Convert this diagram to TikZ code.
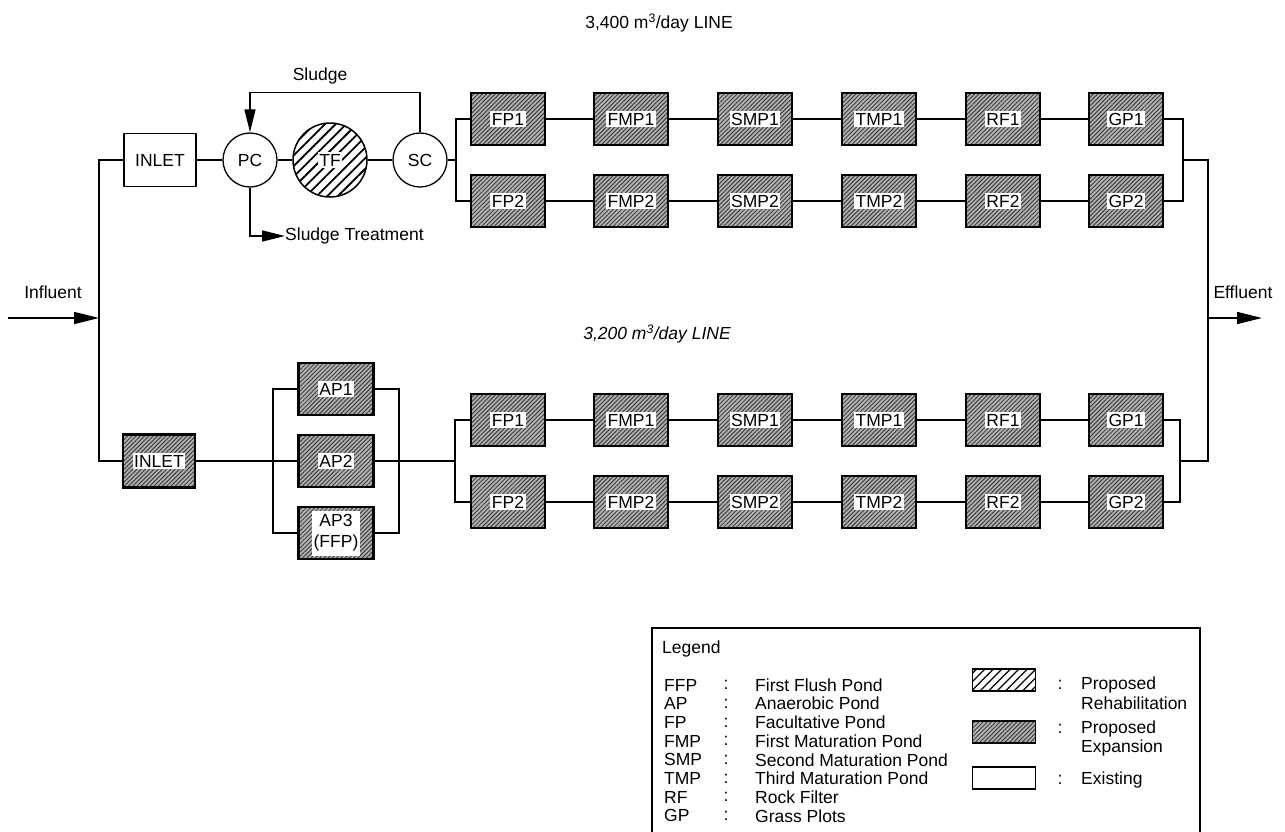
\documentclass[tikz,border=0pt]{standalone}
\usepackage{fontspec}
\setmainfont{Liberation Sans}
\usetikzlibrary{arrows.meta,patterns.meta}
\newcommand\fsz{\fontsize{17.5pt}{21pt}\selectfont}
\newcommand\wb[1]{{\setlength\fboxsep{1.5pt}\colorbox{white}{#1}}}
\begin{document}
\begin{tikzpicture}[x=1pt,y=-1pt,
  every node/.append style={font=\fsz},
  txt/.style={inner sep=0pt},
  conn/.style={line width=1.4pt},
  bigarr/.style={-{Triangle[length=25pt,width=12pt]}},
  smallarr/.style={-{Triangle[length=23pt,width=11pt]}},
  expbox/.style={draw, line width=2.4pt, minimum width=74pt, minimum height=52pt, inner sep=1pt,
    preaction={fill=gray!60}, pattern={Lines[angle=45,distance=3pt,line width=1pt]}, pattern color=black!75},
  exbox/.style={draw, line width=1.3pt, fill=white, minimum width=72pt, minimum height=53pt},
  excirc/.style={draw, circle, line width=1.3pt, fill=white, minimum size=54pt, inner sep=0pt},
  rehabcirc/.style={draw, circle, line width=1.5pt, minimum size=74pt, inner sep=0pt,
    preaction={fill=white}, pattern={Lines[angle=45,distance=7.5pt,line width=1.8pt]}},
  lgrehab/.style={draw, line width=1.4pt, minimum width=63pt, minimum height=22pt, inner sep=0pt,
    preaction={fill=white}, pattern={Lines[angle=45,distance=6pt,line width=1.3pt]}},
  lgexp/.style={expbox, minimum width=63pt, minimum height=22pt, line width=1.4pt},
  lgex/.style={draw, line width=1.3pt, fill=white, minimum width=63pt, minimum height=22pt, inner sep=0pt}
]
\useasboundingbox (0,0) rectangle (1285,831);

% ---------- titles ----------
\node[txt] (t1) at (659,23) {3,400 m\textsuperscript{3}/day LINE};
\node[txt] (t2) at (657,334) {\itshape 3,200 m\textsuperscript{3}/day LINE};

% ---------- influent / effluent ----------
\node[txt] (infl) at (53,292) {Influent};
\node[txt] (effl) at (1243,292) {Effluent};
\coordinate (inA) at (8,318);
\coordinate (inB) at (99,318);
\coordinate (lt) at (99,160);
\coordinate (lb) at (99,461);
\coordinate (rt) at (1208,160);
\coordinate (rb) at (1208,461);
\coordinate (outA) at (1208,318);
\coordinate (outB) at (1262,318);

% ---------- top line ----------
\node[exbox] (in1) at (160,160) {INLET};
\node[excirc] (pc) at (250,160) {PC};
\node[rehabcirc] (tf) at (330,160) {\wb{TF}};
\node[excirc] (sc) at (420,160) {SC};
\node[txt] (sl) at (320,76) {Sludge};
\node[txt,anchor=west] (st) at (285,236) {Sludge Treatment};
\coordinate (s1) at (456,160);
\coordinate (m1) at (1183,160);

\foreach \n/\L/\x in {fp/FP/508,fmp/FMP/631,smp/SMP/755,tmp/TMP/879,rf/RF/1003,gp/GP/1126}{
  \node[expbox] (\n A) at (\x,119) {\wb{\L1}};
  \node[expbox] (\n B) at (\x,201) {\wb{\L2}};
  \node[expbox] (\n C) at (\x,420) {\wb{\L1}};
  \node[expbox] (\n D) at (\x,502) {\wb{\L2}};
}

% ---------- bottom line ----------
\node[expbox, minimum width=72pt, minimum height=53pt] (in2) at (159,461) {\wb{INLET}};
\node[expbox, minimum width=75pt] (ap1) at (336,389) {\wb{AP1}};
\node[expbox, minimum width=75pt] (ap2) at (336,461) {\wb{AP2}};
\node[expbox, minimum width=75pt] (ap3) at (336,533) {\wb{\begin{tabular}{@{}c@{}}AP3\\(FFP)\end{tabular}}};
\coordinate (a1) at (273,461);
\coordinate (a2) at (399,461);
\coordinate (s2) at (455,461);
\coordinate (m2) at (1180,461);

% ---------- connectors ----------
\draw[conn,bigarr] (inA) -- (inB);
\draw[conn] (in1.west) -- (lt) -- (lb) -- (in2.west);
\draw[conn] (in1) -- (pc) -- (tf) -- (sc);
\draw[conn,smallarr] (sc.north) -- ++(0,-40) -| (pc.north);
\draw[conn,smallarr] (pc.south) |- (st.west);
\draw[conn] (sc.east) -- (s1);
\draw[conn] (fpA.west) -| (s1) |- (fpB.west);
\draw[conn] (fpC.west) -| (s2) |- (fpD.west);
\foreach \r in {A,B,C,D}{
  \draw[conn] (fp\r) -- (fmp\r) -- (smp\r) -- (tmp\r) -- (rf\r) -- (gp\r);
}
\draw[conn] (gpA.east) -| (m1) |- (gpB.east);
\draw[conn] (gpC.east) -| (m2) |- (gpD.east);
\draw[conn] (m1) -- (rt) -- (rb) -- (m2);
\draw[conn,bigarr] (outA) -- (outB);

\draw[conn] (in2.east) -- (ap2.west);
\draw[conn] (ap1.west) -| (a1) |- (ap3.west);
\draw[conn] (ap1.east) -| (a2) |- (ap3.east);
\draw[conn] (ap2.east) -- (s2);

% ---------- legend ----------
\draw[line width=1.3pt] (652,845) -- (652,628) -- (1200,628) -- (1200,845);
\node[txt,anchor=west] (lgt) at (662,649) {Legend};
\foreach \a/\d [count=\i from 0] in {FFP/First Flush Pond, AP/Anaerobic Pond, FP/Facultative Pond,
   FMP/First Maturation Pond, SMP/Second Maturation Pond, TMP/Third Maturation Pond,
   RF/Rock Filter, GP/Grass Plots}{
  \node[txt,anchor=west] (lga\i) at (664,{685+18.7*\i}) {\a};
  \node[txt] (lgc\i) at (726,{685+18.7*\i}) {:};
  \node[txt,anchor=west] (lgd\i) at (755,{685+18.7*\i}) {\d};
}
\node[lgrehab] (lk1) at (1004,680) {};
\node[txt] (lkc1) at (1060,685) {:};
\node[txt,anchor=west] (lkt1) at (1081,685) {Proposed};
\node[txt,anchor=west] (lkt1b) at (1081,703.7) {Rehabilitation};
\node[lgexp] (lk2) at (1004,732) {};
\node[txt] (lkc2) at (1060,729) {:};
\node[txt,anchor=west] (lkt2) at (1081,729) {Proposed};
\node[txt,anchor=west] (lkt2b) at (1081,747.5) {Expansion};
\node[lgex] (lk3) at (1004,778) {};
\node[txt] (lkc3) at (1060,780) {:};
\node[txt,anchor=west] (lkt3) at (1081,780) {Existing};
\end{tikzpicture}
\end{document}
